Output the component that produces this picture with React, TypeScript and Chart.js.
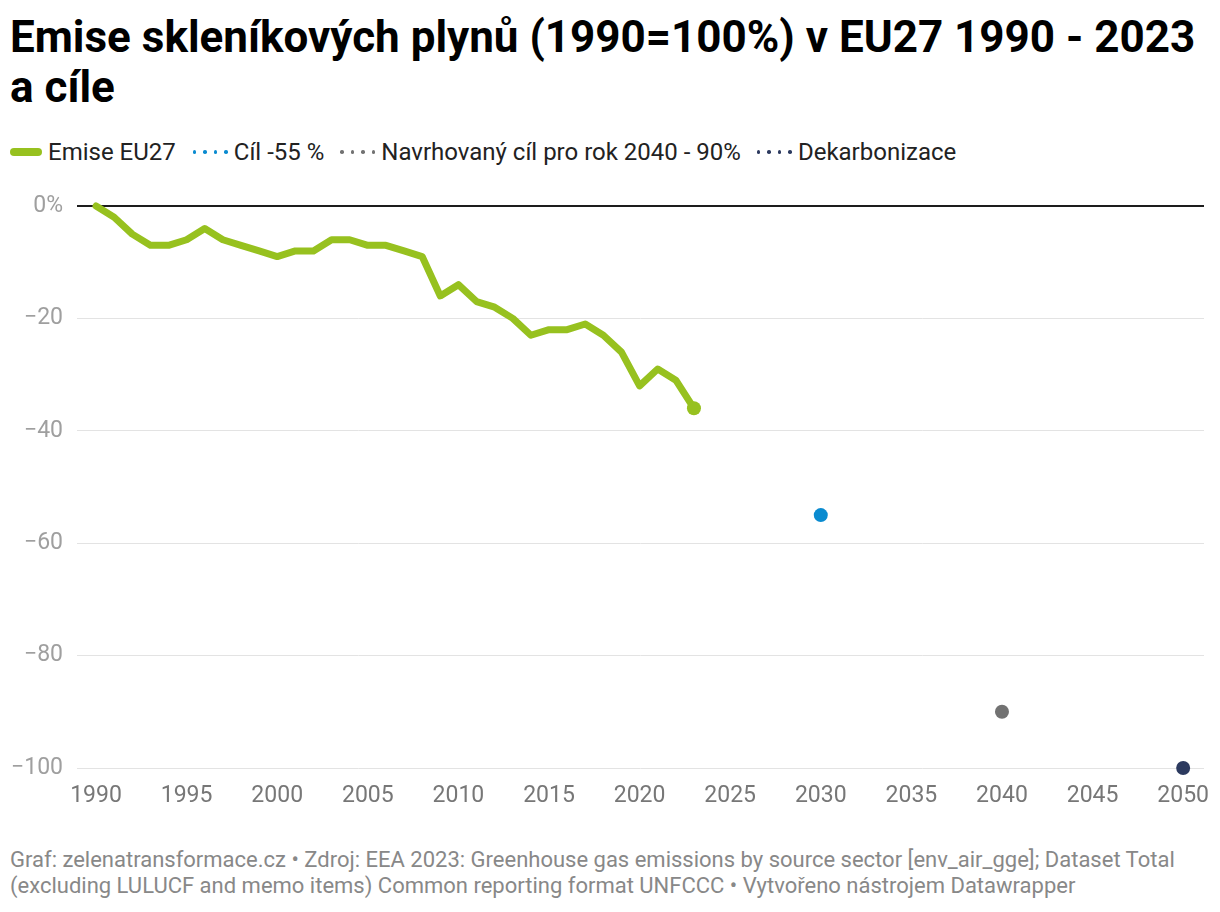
import React, { useEffect, useRef } from "react";
import { Chart, registerables } from "chart.js";

Chart.register(...registerables);

const years = [
  1990, 1991, 1992, 1993, 1994, 1995, 1996, 1997, 1998, 1999,
  2000, 2001, 2002, 2003, 2004, 2005, 2006, 2007, 2008, 2009,
  2010, 2011, 2012, 2013, 2014, 2015, 2016, 2017, 2018, 2019,
  2020, 2021, 2022, 2023,
];
const emissions = [
  0, -2, -5, -7, -7, -6, -4, -6, -7, -8,
  -9, -8, -8, -6, -6, -7, -7, -8, -9, -16,
  -14, -17, -18, -20, -23, -22, -22, -21, -23, -26,
  -32, -29, -31, -36,
];
const targetYears = [2030, 2040, 2050];
const targetValues = [-55, -90, -100];
const seriesLabels = [
  "Emise EU27",
  "Cíl -55 %",
  "Navrhovaný cíl pro rok 2040 - 90%",
  "Dekarbonizace",
];
const xTickStep = 5;
const yTickStep = 20;

const GREEN = "#97c11f";
const targetColors = ["#0a8bd0", "#727272", "#2c3a5f"];
const FONT = "Roboto, 'Noto Sans', sans-serif";

function DotMarker({ color }: { color: string }) {
  return (
    <span style={{ display: "inline-flex", width: 35, justifyContent: "space-between", marginRight: 6 }}>
      {[0, 1, 2, 3].map((i) => (
        <span
          key={i}
          style={{ width: 3.5, height: 3.5, borderRadius: "50%", background: color, display: "inline-block" }}
        />
      ))}
    </span>
  );
}

export default function App() {
  const canvasRef = useRef<HTMLCanvasElement | null>(null);

  useEffect(() => {
    if (!canvasRef.current) return;
    const last = emissions.length - 1;
    const datasets: any[] = [
      {
        label: seriesLabels[0],
        data: years.map((y, i) => ({ x: y, y: emissions[i] })),
        borderColor: GREEN,
        backgroundColor: GREEN,
        borderWidth: 7,
        borderJoinStyle: "round",
        borderCapStyle: "round",
        tension: 0,
        pointRadius: (ctx: any) => (ctx.dataIndex === last ? 7 : 0),
        pointHoverRadius: 0,
        pointBorderWidth: 0,
        pointBackgroundColor: GREEN,
        clip: false,
      },
    ];
    targetYears.forEach((y, i) => {
      datasets.push({
        label: seriesLabels[i + 1],
        type: "scatter",
        data: [{ x: y, y: targetValues[i] }],
        backgroundColor: targetColors[i],
        borderColor: targetColors[i],
        pointRadius: 7,
        pointBorderWidth: 0,
        showLine: false,
        clip: false,
      });
    });

    const chart = new Chart(canvasRef.current, {
      type: "line",
      data: { datasets },
      options: {
        animation: false,
        responsive: false,
        maintainAspectRatio: false,
        events: [],
        layout: { padding: { top: 36, right: 16, bottom: 18, left: 0 } },
        plugins: { legend: { display: false }, tooltip: { enabled: false } },
        scales: {
          x: {
            type: "linear",
            min: 1988.95,
            max: 2051.15,
            grid: { display: false, drawTicks: false },
            border: { display: false },
            ticks: {
              stepSize: xTickStep,
              includeBounds: false,
              autoSkip: false,
              maxRotation: 0,
              padding: 14,
              color: "#777777",
              font: { family: FONT, size: 23 },
              callback: (v: any) => String(v),
            },
            afterFit: (s: any) => {
              s.height = 44;
              s.paddingRight = 0;
              s.paddingLeft = 0;
            },
          },
          y: {
            min: -100,
            max: 0,
            grid: {
              drawTicks: false,
              color: (c: any) => (c.tick && c.tick.value === 0 ? "#1d1d1d" : "#e3e3e3"),
              lineWidth: (c: any) => (c.tick && c.tick.value === 0 ? 2 : 1),
            },
            border: { display: false },
            ticks: {
              stepSize: yTickStep,
              includeBounds: false,
              padding: 14,
              color: "#9f9f9f",
              font: { family: FONT, size: 23 },
              callback: (v: any) => (v === 0 ? "0%" : v < 0 ? "\u2212" + Math.abs(v) : String(v)),
            },
            afterFit: (s: any) => {
              s.width = 77;
            },
          },
        },
      },
    });
    return () => chart.destroy();
  }, []);

  return (
    <div style={{ position: "absolute", left: 0, top: 0, width: 1220, height: 912, fontFamily: FONT, background: "#fff" }}>
      <div
        style={{
          position: "absolute",
          left: 10,
          top: 12,
          width: 1205,
          fontSize: 44,
          lineHeight: "50px",
          fontWeight: 700,
          color: "#000",
          whiteSpace: "nowrap",
        }}
      >
        Emise skleníkových plynů (1990=100%) v EU27 1990 - 2023
        <br />a cíle
      </div>
      <div
        style={{
          position: "absolute",
          left: 10,
          top: 140,
          display: "flex",
          alignItems: "center",
          fontSize: 24,
          lineHeight: "24px",
          color: "#222",
          whiteSpace: "nowrap",
        }}
      >
        <span style={{ display: "inline-flex", alignItems: "center", marginRight: 17 }}>
          <span style={{ width: 32, height: 8, borderRadius: 4, background: GREEN, display: "inline-block", marginRight: 6 }} />
          {seriesLabels[0]}
        </span>
        {targetColors.map((c, i) => (
          <span key={i} style={{ display: "inline-flex", alignItems: "center", marginRight: 16 }}>
            <DotMarker color={c} />
            {seriesLabels[i + 1]}
          </span>
        ))}
      </div>
      <div style={{ position: "absolute", left: 0, top: 170, width: 1220, height: 660 }}>
        <canvas ref={canvasRef} width={1220} height={660} style={{ width: 1220, height: 660 }} />
      </div>
      <div
        style={{
          position: "absolute",
          left: 10,
          top: 847,
          fontSize: 22,
          lineHeight: "26px",
          color: "#888",
          whiteSpace: "nowrap",
        }}
      >
        Graf: zelenatransformace.cz • Zdroj: EEA 2023: Greenhouse gas emissions by source sector [env_air_gge]; Dataset Total
        <br />
        (excluding LULUCF and memo items) Common reporting format UNFCCC • Vytvořeno nástrojem Datawrapper
      </div>
    </div>
  );
}
